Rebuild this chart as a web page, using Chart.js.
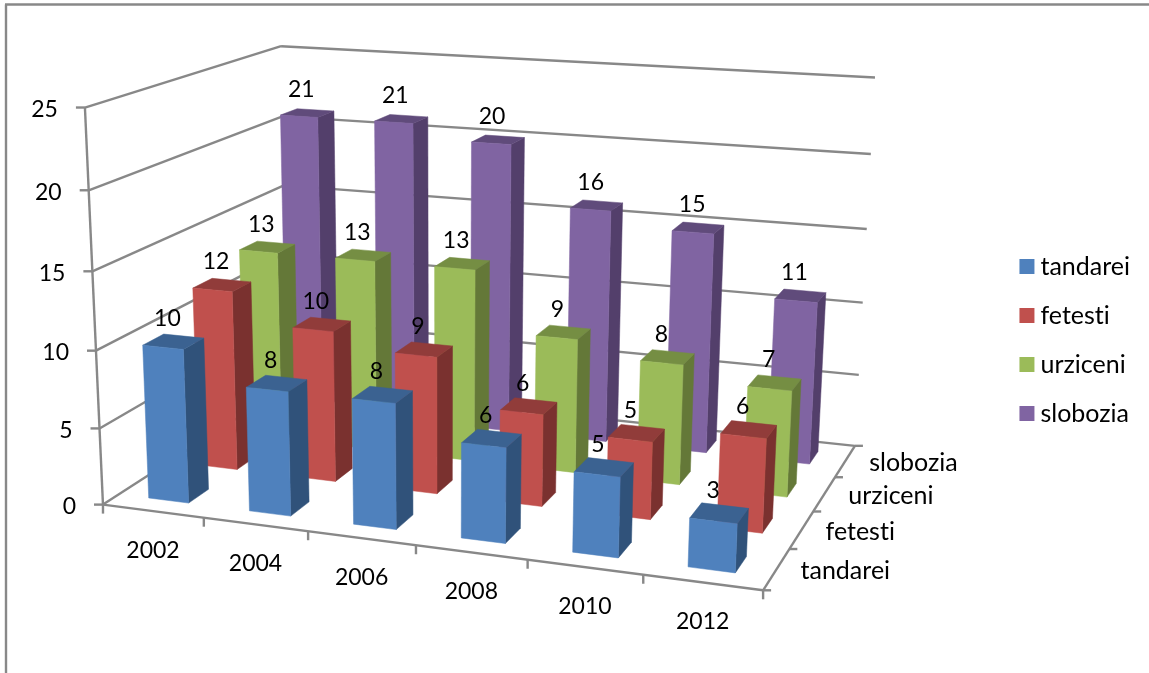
<!DOCTYPE html>
<html>
<head>
<meta charset="utf-8">
<script src="https://cdn.jsdelivr.net/npm/chart.js@4"></script>
<style>
html, body { margin: 0; padding: 0; background: #fff; }
#wrap { width: 1149px; height: 673px; position: relative; }
</style>
</head>
<body>
<div id="wrap"><canvas id="chart1"></canvas></div>
<script>
var years = ['2002', '2004', '2006', '2008', '2010', '2012'];
var tandarei = [10, 8, 8, 6, 5, 3];
var fetesti = [12, 10, 9, 6, 5, 6];
var urziceni = [13, 13, 13, 9, 8, 7];
var slobozia = [21, 21, 20, 16, 15, 11];
var seriesNames = ['tandarei', 'fetesti', 'urziceni', 'slobozia'];

var frontColors = ['#4f81bd', '#c0504d', '#9bbb59', '#8064a2'];
var sideColors = ['#30527a', '#7a312f', '#647838', '#533f6b'];
var topColors = ['#3b6291', '#913c3a', '#758e43', '#604b7b'];

var gray = '#888888';
var fontName = 'Lato, Carlito, sans-serif';
var digitSize = 23;
var wordSize = 25;

// where the corners of the plot box land on the page: u (along years), v (up), w (into depth), x, y
var boxCorners = [
    [0, 0, 0, 103, 504],
    [1, 0, 0, 763, 591],
    [0, 1, 0, 85, 107.5],
    [0, 1, 1, 281, 46],
    [1, 1, 1, 875, 77.7],
    [1, 0, 1, 855, 445],
    [0, 0, 1, 288, 386]
];

// least squares fit of a 3x4 camera matrix (last entry fixed to 1)
function fitCamera(points) {
    var n = 11, A = [], b = [], i, j, k;
    for (i = 0; i < n; i++) { A.push(new Array(n).fill(0)); b.push(0); }
    function addRow(row, val) {
        for (var r = 0; r < n; r++) {
            for (var c = 0; c < n; c++) A[r][c] += row[r] * row[c];
            b[r] += row[r] * val;
        }
    }
    points.forEach(function(p) {
        var u = p[0], v = p[1], w = p[2], x = p[3], y = p[4];
        addRow([u, v, w, 1, 0, 0, 0, 0, -x * u, -x * v, -x * w], x);
        addRow([0, 0, 0, 0, u, v, w, 1, -y * u, -y * v, -y * w], y);
    });
    for (i = 0; i < n; i++) {
        var best = i;
        for (j = i + 1; j < n; j++) if (Math.abs(A[j][i]) > Math.abs(A[best][i])) best = j;
        var t = A[i]; A[i] = A[best]; A[best] = t;
        t = b[i]; b[i] = b[best]; b[best] = t;
        for (j = i + 1; j < n; j++) {
            var f = A[j][i] / A[i][i];
            for (k = i; k < n; k++) A[j][k] -= f * A[i][k];
            b[j] -= f * b[i];
        }
    }
    var m = new Array(n).fill(0);
    for (i = n - 1; i >= 0; i--) {
        var s = b[i];
        for (k = i + 1; k < n; k++) s -= A[i][k] * m[k];
        m[i] = s / A[i][i];
    }
    return m;
}

var cam = fitCamera(boxCorners);

function project(u, v, w) {
    var d = cam[8] * u + cam[9] * v + cam[10] * w + 1;
    return {
        x: (cam[0] * u + cam[1] * v + cam[2] * w + cam[3]) / d,
        y: (cam[4] * u + cam[5] * v + cam[6] * w + cam[7]) / d
    };
}

function strokeLine(ctx, a, b) {
    ctx.beginPath();
    ctx.moveTo(a.x, a.y);
    ctx.lineTo(b.x, b.y);
    ctx.stroke();
}

function fillFace(ctx, pts, color) {
    ctx.fillStyle = color;
    ctx.strokeStyle = color;
    ctx.lineWidth = 0.5;
    ctx.beginPath();
    pts.forEach(function(p, i) {
        if (i === 0) ctx.moveTo(p.x, p.y); else ctx.lineTo(p.x, p.y);
    });
    ctx.closePath();
    ctx.fill();
    ctx.stroke();
}

// draws the box, the bars and all the labels in perspective, taken from the chart's scales
var perspective = {
    id: 'perspective',
    beforeDraw: function(chart) {
        // no "ti" ligature in fetesti
        chart.ctx.textRendering = 'optimizeSpeed';
    },
    beforeDatasetDraw: function() {
        return false;
    },
    beforeDatasetsDraw: function(chart) {
        var ctx = chart.ctx, xs = chart.scales.x, ys = chart.scales.y;
        var area = chart.chartArea;
        var rows = chart.data.datasets.length, cols = chart.data.labels.length;
        var yFrac = function(val) {
            return (ys.getPixelForValue(0) - ys.getPixelForValue(val)) / area.height;
        };

        ctx.save();
        ctx.strokeStyle = gray;
        ctx.lineWidth = 2.4;

        // page frame
        strokeLine(ctx, { x: 6, y: 673 }, { x: 6, y: 4.5 });
        strokeLine(ctx, { x: 5, y: 4.5 }, { x: 1149, y: 4.5 });

        // walls and value axis
        ys.ticks.forEach(function(tick) {
            var v = yFrac(tick.value);
            var a = project(0, v, 0), b = project(0, v, 1), c = project(1, v, 1);
            strokeLine(ctx, a, b);
            strokeLine(ctx, b, c);
            strokeLine(ctx, { x: a.x - 9, y: a.y }, a);
        });
        strokeLine(ctx, project(0, 0, 0), project(0, 1, 0));

        // floor edges and their ticks
        strokeLine(ctx, project(0, 0, 0), project(1, 0, 0));
        strokeLine(ctx, project(1, 0, 0), project(1, 0, 1));
        var i, p;
        for (i = 0; i <= cols; i++) {
            p = project(i / cols, 0, 0);
            strokeLine(ctx, p, { x: p.x, y: p.y + 9 });
        }
        for (i = 0; i <= rows; i++) {
            p = project(1, 0, i / rows);
            strokeLine(ctx, p, { x: p.x + 8, y: p.y });
        }
        ctx.restore();

        // bars, back row first
        for (var d = rows - 1; d >= 0; d--) {
            chart.getDatasetMeta(d).data.forEach(function(el) {
                var half = el.width / 2;
                var depthHalf = (el.width / (area.width / cols)) / 2;
                var u0 = (el.x - half - area.left) / area.width;
                var u1 = (el.x + half - area.left) / area.width;
                var v1 = (ys.getPixelForValue(0) - el.y) / area.height;
                var w0 = (d + 0.5 - depthHalf) / rows;
                var w1 = (d + 0.5 + depthHalf) / rows;
                fillFace(ctx, [project(u1, 0, w0), project(u1, 0, w1), project(u1, v1, w1), project(u1, v1, w0)], sideColors[d]);
                fillFace(ctx, [project(u0, v1, w0), project(u1, v1, w0), project(u1, v1, w1), project(u0, v1, w1)], topColors[d]);
                fillFace(ctx, [project(u0, 0, w0), project(u1, 0, w0), project(u1, v1, w0), project(u0, v1, w0)], frontColors[d]);
            });
        }

        // text
        ctx.save();
        ctx.fillStyle = '#000';
        ctx.textBaseline = 'middle';
        ctx.font = digitSize + 'px ' + fontName;

        ctx.textAlign = 'right';
        ys.ticks.forEach(function(tick) {
            var a = project(0, yFrac(tick.value), 0);
            ctx.fillText(tick.label, a.x - 27, a.y + 2);
        });

        ctx.textAlign = 'center';
        xs.ticks.forEach(function(tick, index) {
            var a = project((xs.getPixelForTick(index) - area.left) / area.width, 0, 0);
            ctx.fillText(xs.getLabelForValue(tick.value), a.x, a.y + 39.5);
        });

        chart.data.datasets.forEach(function(ds, index) {
            chart.getDatasetMeta(index).data.forEach(function(el, k) {
                var u = (el.x - area.left) / area.width;
                var v = (ys.getPixelForValue(0) - el.y) / area.height;
                var a = project(u, v, (index + 0.5) / rows);
                ctx.fillText(String(ds.data[k]), a.x - 6, a.y - 23);
            });
        });

        ctx.font = wordSize + 'px ' + fontName;
        ctx.textAlign = 'left';
        chart.data.datasets.forEach(function(ds, index) {
            var a = project(1, 0, (index + 0.5) / rows);
            ctx.fillText(ds.label, a.x + 24, a.y + 2);
        });
        ctx.restore();
    }
};

var seriesValues = [tandarei, fetesti, urziceni, slobozia];

var ctx = document.getElementById('chart1').getContext('2d');

Chart.defaults.font.family = fontName;
Chart.defaults.font.size = digitSize;

var myChart = new Chart(ctx, {
    type: 'bar',
    data: {
        labels: years,
        datasets: seriesNames.map(function(name, i) {
            return {
                label: name,
                data: seriesValues[i],
                backgroundColor: frontColors[i],
                borderWidth: 0,
                grouped: false,
                barPercentage: 0.4,
                categoryPercentage: 1
            };
        })
    },
    options: {
        responsive: true,
        maintainAspectRatio: false,
        animation: false,
        layout: { padding: { top: 7, right: 9 } },
        scales: {
            x: { display: false },
            y: { display: false, min: 0, max: 25, ticks: { stepSize: 5 } }
        },
        plugins: {
            tooltip: { enabled: false },
            legend: {
                position: 'right',
                labels: {
                    color: '#000',
                    usePointStyle: true,
                    pointStyle: 'rect',
                    boxWidth: 2,
                    boxHeight: 15,
                    padding: 24,
                    font: { size: wordSize, family: fontName }
                }
            }
        }
    },
    plugins: [perspective]
});
</script>
</body>
</html>
